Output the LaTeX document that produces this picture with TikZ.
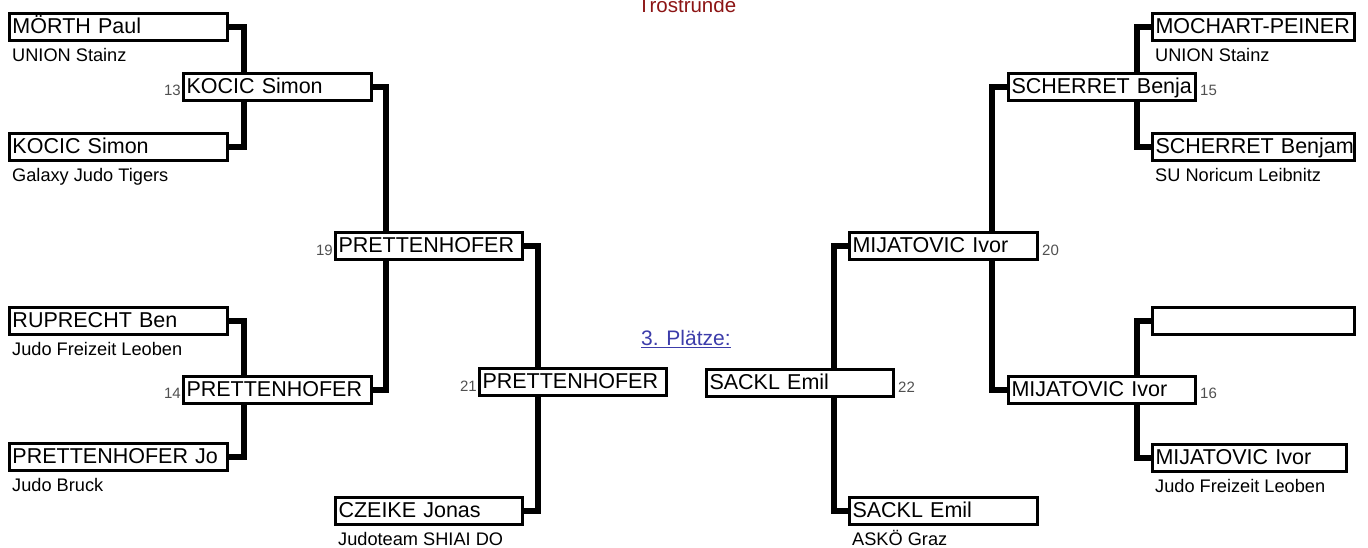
\documentclass[tikz,border=0pt]{standalone}
\usepackage{fontspec}
\setmainfont{Liberation Sans}
\pgfdeclarelayer{bg}
\pgfsetlayers{bg,main}
\definecolor{numgray}{RGB}{80,80,80}
\definecolor{titlered}{RGB}{140,20,20}
\definecolor{linkblue}{RGB}{60,60,170}
\newcommand{\namefnt}{\fontsize{21.5}{21.5}\selectfont}
\newcommand{\clubfnt}{\fontsize{18.2}{18.2}\selectfont}
\newcommand{\numfnt}{\fontsize{15}{15}\selectfont}
\tikzset{
  player/.style={draw, line width=3.3pt, fill=white, anchor=north west,
    inner xsep=3pt, inner ysep=0pt, outer sep=0pt,
    text height=19.5pt, text depth=7.5pt, align=left, font=\namefnt,
    execute at begin node={\hyphenpenalty=10000\exhyphenpenalty=10000\hbadness=10000\hfuzz=20pt}},
  club/.style={anchor=base west, inner sep=0pt, font=\clubfnt},
  numL/.style={anchor=base east, inner sep=0pt, font=\numfnt, text=numgray},
  numR/.style={anchor=base west, inner sep=0pt, font=\numfnt, text=numgray},
  conn/.style={line width=5.6pt, line join=miter}
}
\begin{document}
\begin{tikzpicture}[x=1pt, y=-1pt]
\useasboundingbox (0,0) rectangle (1368,547);

% title and link
\node[anchor=base, inner sep=0pt, font=\fontsize{20.5}{20.5}\selectfont, text=titlered] (title) at (687,12) {Trostrunde};
\node[anchor=base west, inner sep=0pt, font=\fontsize{21}{21}\selectfont, text=linkblue] (link) at (641,345) {3. Plätze:};
\draw[linkblue, line width=1.4pt] ([yshift=-2.5pt]link.base west) -- ([yshift=-2.5pt]link.base east);

% left half
\node[player, text width=212pt] (moerth) at (9.5,13.5) {MÖRTH Paul};
\node[player, text width=212pt] (kocicA) at (9.5,133.5) {KOCIC Simon};
\node[player, text width=212pt] (rup) at (9.5,307.5) {RUPRECHT Ben};
\node[player, text width=212pt] (jo) at (9.5,443.5) {PRETTENHOFER Jo};
\node[player, text width=182pt] (k13) at (183.5,73.5) {KOCIC Simon};
\node[player, text width=182pt] (p14) at (183.5,376.5) {PRETTENHOFER};
\node[player, text width=181pt] (p19) at (335.5,232.5) {PRETTENHOFER};
\node[player, text width=181pt] (cz) at (335.5,497.5) {CZEIKE Jonas};
\node[player, text width=181pt] (p21) at (479.5,368.5) {PRETTENHOFER};

% right half
\node[player, text width=181pt] (s22) at (706.5,369.5) {SACKL Emil};
\node[player, text width=182pt] (m20) at (849.5,232.5) {MIJATOVIC Ivor};
\node[player, text width=182pt] (sa2) at (849.5,497.5) {SACKL Emil};
\node[player, text width=181pt] (s15) at (1008.5,73.5) {\mbox{SCHERRET Benja}};
\node[player, text width=181pt] (m16) at (1008.5,376.5) {MIJATOVIC Ivor};
\node[player, text width=196pt] (moch) at (1152.5,13.5) {\mbox{MOCHART-PEINER}};
\node[player, text width=196pt] (sch2) at (1152.5,133.5) {\mbox{SCHERRET Benjam}};
\node[player, text width=196pt] (empty) at (1152.5,307.5) {};
\node[player, text width=188pt] (m3) at (1152.5,444.5) {MIJATOVIC Ivor};

% clubs
\node[club] (cl1) at (12,61.5) {UNION Stainz};
\node[club] (cl2) at (12,181.5) {Galaxy Judo Tigers};
\node[club] (cl3) at (12,355.5) {Judo Freizeit Leoben};
\node[club] (cl4) at (12,491.5) {Judo Bruck};
\node[club] (cl5) at (338,545.5) {Judoteam SHIAI DO};
\node[club] (cl6) at (1155,61.5) {UNION Stainz};
\node[club] (cl7) at (1155,181.5) {SU Noricum Leibnitz};
\node[club] (cl8) at (1155,492.5) {Judo Freizeit Leoben};
\node[club] (cl9) at (852,545.5) {ASKÖ Graz};

% fight numbers
\node[numL] (n13) at (181,95.5) {13};
\node[numL] (n14) at (181,398.5) {14};
\node[numL] (n19) at (333,255.5) {19};
\node[numL] (n21) at (477,391.5) {21};
\node[numR] (n15) at (1200,95.5) {15};
\node[numR] (n20) at (1042,255.5) {20};
\node[numR] (n16) at (1200,398.5) {16};
\node[numR] (n22) at (898,392.5) {22};

% connectors
\begin{pgfonlayer}{bg}
\draw[conn] (moerth.east) -| (244,0 |- k13.north);
\draw[conn] (kocicA.east) -| (244,0 |- k13.south);
\draw[conn] (rup.east) -| (244,0 |- p14.north);
\draw[conn] (jo.east) -| (244,0 |- p14.south);
\draw[conn] (k13.east) -| (386,0 |- p19.north);
\draw[conn] (p14.east) -| (386,0 |- p19.south);
\draw[conn] (p19.east) -| (538,0 |- p21.north);
\draw[conn] (cz.east) -| (538,0 |- p21.south);
\draw[conn] (moch.west) -| (1137,0 |- s15.north);
\draw[conn] (sch2.west) -| (1137,0 |- s15.south);
\draw[conn] (empty.west) -| (1137,0 |- m16.north);
\draw[conn] (m3.west) -| (1137,0 |- m16.south);
\draw[conn] (s15.west) -| (992,0 |- m20.north);
\draw[conn] (m16.west) -| (992,0 |- m20.south);
\draw[conn] (m20.west) -| (834,0 |- s22.north);
\draw[conn] (sa2.west) -| (834,0 |- s22.south);
\end{pgfonlayer}
\end{tikzpicture}
\end{document}
